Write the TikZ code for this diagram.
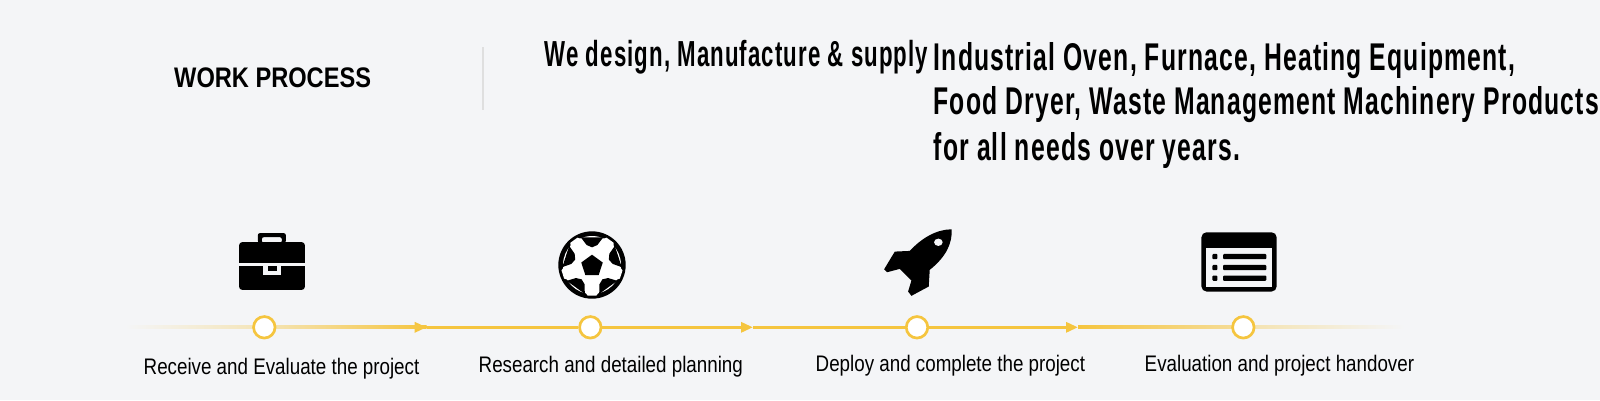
\documentclass[tikz,border=0pt]{standalone}
\usepackage{fontspec}
\setmainfont[FakeStretch=0.835]{Liberation Sans}
\newfontfamily\headfont[FakeStretch=0.614,LetterSpace=3]{Liberation Sans}
\newfontfamily\indfont[FakeStretch=0.64,LetterSpace=3]{Liberation Sans}
\usetikzlibrary{arrows.meta,calc}
\pgfdeclarelayer{bg}
\pgfsetlayers{bg,main}
\definecolor{pagegray}{HTML}{F4F5F7}
\definecolor{flowyellow}{HTML}{F5C53F}
\newcommand{\fadeline}[4]{\shade[left color=#3,right color=#4] ($(#1)+(0,-.015)$) rectangle ($(#2)+(0,.015)$);}
\tikzset{
  stepdot/.style={circle,draw=flowyellow,fill=white,line width=.027cm,minimum size=.215cm,inner sep=0},
  steplabel/.style={anchor=base west,inner sep=0,font=\fontsize{6.4}{8}\selectfont},
  headline/.style={anchor=base west,inner sep=0,font=\headfont\bfseries\fontsize{10.3}{12}\selectfont},
  indline/.style={anchor=base west,inner sep=0,font=\indfont\bfseries\fontsize{11}{13}\selectfont},
  flow/.style={draw=flowyellow,line width=.03cm},
  flowtip/.style={flow,-{Triangle[length=.12cm,width=.1cm,color=flowyellow]}},
  icon/.style={fill=black,draw=none}
}
\begin{document}
\begin{tikzpicture}
    \begin{pgfonlayer}{bg}
        \fill [pagegray] (0,0) rectangle (16,4);
    \end{pgfonlayer}
    \useasboundingbox (0,0) rectangle (16,4);

    \node [anchor=base west,inner sep=0,font=\bfseries\fontsize{8.05}{10}\selectfont] (title) at (1.735,3.13) {WORK PROCESS};
    \node [fill=gray!25,minimum width=.025cm,minimum height=.635cm,inner sep=0] (divider) at (4.83,3.215) {};

    \node [headline] (head) at (5.44,3.34) {We design, Manufacture \& supply};
    \node [indline] (ind1) at (9.33,3.30) {Industrial Oven, Furnace, Heating Equipment,};
    \node [indline] (ind2) at (9.33,2.86) {Food Dryer, Waste Management Machinery Products};
    \node [indline] (ind3) at (9.33,2.40) {for all needs over years.};

    \node [stepdot] (c1) at (2.643,.727) {};
    \node [stepdot] (c2) at (5.903,.727) {};
    \node [stepdot] (c3) at (9.17,.727) {};
    \node [stepdot] (c4) at (12.433,.727) {};
    \coordinate (start) at (1.25,.727);
    \coordinate (stop) at (14.05,.727);
    \coordinate (a1) at (4.267,.727);
    \coordinate (a2) at (7.53,.727);
    \coordinate (a3) at (10.78,.727);

    \begin{pgfonlayer}{bg}    % line runs under the dots
        \fadeline{start}{c1}{pagegray}{flowyellow!35!pagegray}
        \draw [flowtip] (c1) -- (a1);
        \fadeline{c1}{a1}{flowyellow!35!pagegray}{flowyellow}
        \draw [flow] (a1) -- (c2);
        \draw [flowtip] (c2) -- (a2);
        \draw [flow] (a2) -- (c3);
        \draw [flowtip] (c3) -- (a3);
        \fadeline{a3}{c4}{flowyellow}{flowyellow!50!pagegray}
        \fadeline{c4}{stop}{flowyellow!40!pagegray}{pagegray}
    \end{pgfonlayer}

    \node [steplabel] (l1) at (1.43,.26) {Receive and Evaluate the project};
    \node [steplabel] (l2) at (4.78,.28) {Research and detailed planning};
    \node [steplabel] (l3) at (8.15,.29) {Deploy and complete the project};
    \node [steplabel] (l4) at (11.44,.29) {Evaluation and project handover};

    % briefcase
    \begin{scope}[shift={(0,4)},x=.01cm,y=-.01cm]
        \fill [icon,rounded corners=.03cm] (239.3,242.3) rectangle (305,290);
        \fill [pagegray] (239.3,262.7) rectangle (305,266);
        \fill [pagegray] (263.3,266) rectangle (281,275);
        \fill [icon] (267.7,266) rectangle (277,271);
        \fill [icon,even odd rule,rounded corners=.02cm] (258,243) rectangle (286,233.3) (262,243) rectangle (282,237.3);
    \end{scope}

    % ball
    \begin{scope}[shift={(5.92,1.35)},x=.01cm,y=.01cm]
        \fill [icon] (0,0) circle (33.7);
        \fill [white] (0,0) circle (29);
        \foreach \a in {54,126,198,270,342}
            \fill [white] (\a-13:28.5) -- (\a-8:31) -- (\a+8:31) -- (\a+13:28.5) -- cycle;
        \begin{scope}[yshift=-.01cm]
            \fill [icon] (90:11.3) -- (162:11.3) -- (234:11.3) -- (306:11.3) -- (18:11.3) -- cycle;
        \end{scope}
        \foreach \a in {90,162,234,306,18}
            \fill [icon] (\a-23:30) -- (\a-21:28) -- (\a-15:20.7) -- (\a:17.7) -- (\a+15:20.7) -- (\a+21:28) -- (\a+23:30) -- cycle;
    \end{scope}

    % rocket
    \begin{scope}[shift={(8,4)},x=.00333cm,y=-.00333cm,yshift=-2.1cm]
        \fill [icon] (456,58) .. controls (410,58) and (365,85) .. (330,123) -- (285,125) -- (253,178) -- (262,187) -- (300,177) -- (335,212) -- (325,245) -- (335,258) -- (387,230) -- (390,180) .. controls (440,140) and (458,100) .. (456,58) -- cycle;
        \fill [pagegray] (416,97) ellipse (13 and 11);
    \end{scope}

    % list window
    \begin{scope}[shift={(8,4)},x=.00333cm,y=-.00333cm,yshift=-2.1cm]
        \fill [icon,rounded corners=.05cm] (1207,67) rectangle (1433,245);
        \fill [pagegray] (1222,115) rectangle (1419,231);
        \foreach \y in {140,173,205} {
            \fill [icon,rounded corners=.01cm] (1240,\y-8) rectangle (1255,\y+8);
            \fill [icon,rounded corners=.01cm] (1272,\y-8) rectangle (1402,\y+8);
        }
    \end{scope}

\end{tikzpicture}
\end{document}
